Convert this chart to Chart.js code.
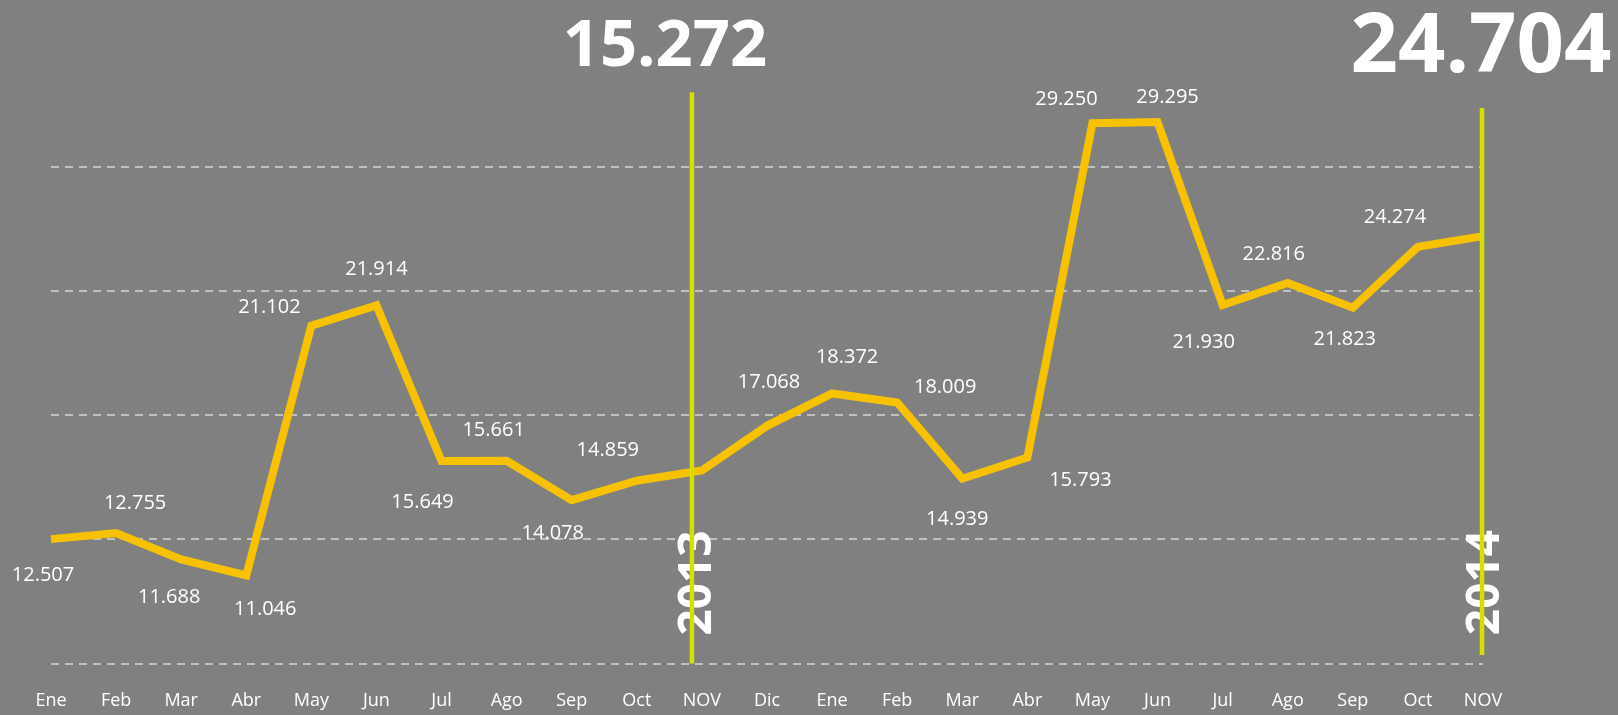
<!DOCTYPE html>
<html><head><meta charset="utf-8">
<script src="https://cdn.jsdelivr.net/npm/chart.js@4.4.1/dist/chart.umd.min.js"></script>
<style>html,body{margin:0;padding:0;background:#808080;overflow:hidden}#wrap{width:1618px;height:715px;position:relative}</style>
</head><body><div id="wrap"><canvas id="c"></canvas></div>
<script>
// ---- data ----
const categories = ['Ene','Feb','Mar','Abr','May','Jun','Jul','Ago','Sep','Oct','NOV','Dic','Ene','Feb','Mar','Abr','May','Jun','Jul','Ago','Sep','Oct','NOV'];
const values = [12507,12755,11688,11046,21102,21914,15649,15661,14078,14859,15272,17068,18372,18009,14939,15793,29250,29295,21930,22816,21823,24274,24704];
const yTicks = [7500,12500,17500,22500,27500];
const markerIndex = [10,22];
const markerYears = ['2013','2014'];

// ---- styles (label placement, marker geometry) ----
const labelOffsets = [[-8,35],[19,-31],[-12,37],[19,33],[-42,-20],[0,-37],[-19,40],[-13,-32],[-19,32],[-29,-32],null,
  [2,-45],[15,-37],[48,-16],[-5,39],[53,21],[-26,-25],[10,-26],[-19,36],[-14,-30],[-8,30],[-23,-31],null];
const markerStyle = [
  {dx:-10, top:30500, bottom:7500, yearY:10740, yearDx:3, totalDx:-27, totalDy:-26, totalSize:65},
  {dx:-1, top:29860, bottom:7840, yearY:10760, yearDx:1, totalDx:-1, totalDy:-36, totalSize:83}
];

function fmt(v){ return String(v).replace(/\B(?=(\d{3})+(?!\d))/g,'.'); }

const bg = {id:'bg', beforeDraw(chart){const c=chart.ctx; c.save(); c.fillStyle='#808080'; c.fillRect(0,0,chart.width,chart.height); c.restore();}};
const overlay = {id:'overlay', afterDatasetsDraw(chart){
  const ctx=chart.ctx, xs=chart.scales.x, ys=chart.scales.y, meta=chart.getDatasetMeta(0);
  ctx.save();
  ctx.font='20px "Open Sans"'; ctx.fillStyle='#ffffff'; ctx.textAlign='center'; ctx.textBaseline='alphabetic';
  meta.data.forEach((pt,i)=>{const o=labelOffsets[i]; if(!o) return; ctx.fillText(fmt(values[i]), pt.x+o[0], pt.y+o[1]+7);});
  markerIndex.forEach((idx,k)=>{
    const m=markerStyle[k]; const lx=xs.getPixelForValue(idx)+m.dx;
    // year text (under the line)
    ctx.save();
    ctx.translate(lx+m.yearDx, ys.getPixelForValue(m.yearY));
    ctx.rotate(-Math.PI/2);
    ctx.font='bold 46px "Open Sans"'; ctx.fillStyle='#ffffff'; ctx.textAlign='center'; ctx.textBaseline='alphabetic';
    ctx.fillText(markerYears[k],0,0.357*46);
    ctx.restore();
    // marker line
    ctx.strokeStyle='#d6e000'; ctx.lineWidth=4.5; ctx.setLineDash([]);
    ctx.beginPath(); ctx.moveTo(lx,ys.getPixelForValue(m.top)); ctx.lineTo(lx,ys.getPixelForValue(m.bottom)); ctx.stroke();
    // total
    ctx.font='bold '+m.totalSize+'px "Open Sans"'; ctx.fillStyle='#ffffff'; ctx.textAlign='center'; ctx.textBaseline='alphabetic';
    ctx.fillText(fmt(values[idx]), lx+m.totalDx, ys.getPixelForValue(m.top)+m.totalDy);
  });
  ctx.restore();
}};

new Chart(document.getElementById('c'), {
  type:'line',
  data:{labels:categories, datasets:[{data:values, borderColor:'#f7c300', borderWidth:8, pointRadius:0, pointHoverRadius:0, tension:0, fill:false, clip:false, borderJoinStyle:'miter'}]},
  options:{responsive:true, maintainAspectRatio:false, animation:false, devicePixelRatio:1,
    layout:{padding:{left:51,right:135,top:42.5,bottom:3}},
    plugins:{legend:{display:false}, tooltip:{enabled:false}},
    scales:{
      x:{grid:{display:false, drawTicks:false}, border:{display:false},
         ticks:{color:'#ffffff', font:{family:'Open Sans', size:18}, padding:27, maxRotation:0, minRotation:0, autoSkip:false},
         afterFit(s){ s.height = 48.5; }},
      y:{min:7500, max:32500, afterBuildTicks(s){s.ticks=yTicks.map(v=>({value:v}));}, grid:{color:'#c0c0c0', lineWidth:2, drawTicks:false}, border:{display:false, dash:[8,6]}, ticks:{display:false}}
    }
  },
  plugins:[bg, overlay]
});
</script>
</body></html>
